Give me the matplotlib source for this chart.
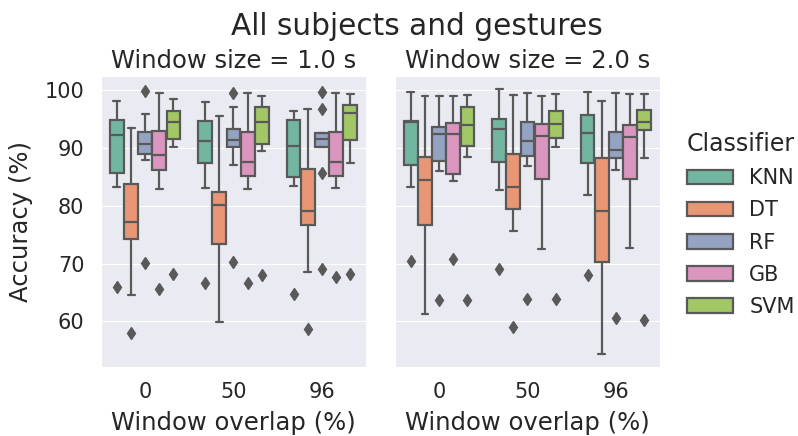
import matplotlib
matplotlib.use("Agg")
import matplotlib.pyplot as plt
from matplotlib.patches import Patch
import seaborn as sns
import colorsys

sns.set_style("darkgrid")

classifiers = ["KNN", "DT", "RF", "GB", "SVM"]
overlaps = ["0", "50", "96"]
window_titles = ["Window size = 1.0 s", "Window size = 2.0 s"]

# box statistics, rows = overlap (0, 50, 96), columns = classifier
whislo_1s = [[83.2, 64.6, 87.9, 82.8, 90.2],
             [83.1, 59.9, 87.1, 82.9, 89.5],
             [83.4, 68.5, 90.1, 83.0, 87.4]]
q1_1s = [[85.7, 74.3, 88.9, 86.2, 91.5],
         [87.3, 73.3, 90.2, 85.1, 90.7],
         [84.9, 76.6, 90.1, 85.2, 91.4]]
med_1s = [[92.2, 77.2, 90.6, 88.7, 94.4],
          [91.2, 80.2, 91.4, 87.6, 94.5],
          [90.3, 79.0, 91.5, 87.6, 96.0]]
q3_1s = [[94.8, 83.7, 92.8, 92.9, 96.4],
         [94.6, 82.3, 93.3, 92.8, 97.0],
         [94.8, 86.3, 92.6, 92.8, 97.4]]
whishi_1s = [[98.1, 93.5, 95.9, 99.5, 98.4],
             [97.9, 95.5, 97.0, 99.4, 98.9],
             [96.4, 96.7, 92.6, 99.4, 99.3]]
fliers_1s = [[[66.0], [58.0], [99.8, 70.1], [65.6], [68.2]],
             [[66.7], [], [99.5, 70.2], [66.6], [68.0]],
             [[64.7], [58.7], [99.7, 96.7, 85.6, 69.1], [67.6], [68.2]]]

whislo_2s = [[83.2, 61.3, 86.0, 84.2, 88.4],
             [82.7, 75.6, 86.9, 72.5, 90.2],
             [81.8, 54.4, 86.2, 72.7, 88.2]]
q1_2s = [[87.1, 76.6, 87.8, 85.5, 90.3],
         [87.5, 79.4, 88.6, 84.6, 91.7],
         [87.3, 70.3, 88.3, 84.6, 93.0]]
med_2s = [[94.5, 84.5, 92.4, 92.4, 93.9],
          [93.3, 83.2, 91.2, 92.1, 94.2],
          [92.6, 79.0, 89.6, 91.8, 94.5]]
q3_2s = [[94.7, 88.4, 93.6, 94.3, 97.0],
         [94.9, 88.9, 94.5, 94.1, 96.3],
         [95.6, 88.2, 92.8, 94.0, 96.6]]
whishi_2s = [[99.7, 99.0, 99.0, 99.0, 99.1],
             [100.1, 99.1, 99.5, 99.0, 99.3],
             [99.7, 98.1, 99.4, 99.3, 99.3]]
fliers_2s = [[[70.4], [], [63.7], [70.8], [63.7]],
             [[69.0], [59.0], [63.9], [], [63.9]],
             [[68.0], [], [60.6], [], [60.3]]]

panels = [
    (whislo_1s, q1_1s, med_1s, q3_1s, whishi_1s, fliers_1s),
    (whislo_2s, q1_2s, med_2s, q3_2s, whishi_2s, fliers_2s),
]

colors = [sns.desaturate(c, 0.75) for c in sns.color_palette("Set2", 5)]
lum = min(colorsys.rgb_to_hls(*c)[1] for c in colors) * 0.6
gray = (lum, lum, lum)

fig = plt.figure(figsize=(7.98, 4.36), dpi=100)
ax1 = fig.add_axes([0.1266, 0.1583, 0.332, 0.667])
ax2 = fig.add_axes([0.495, 0.1583, 0.332, 0.667], sharey=ax1)
axes = [ax1, ax2]

lw = 1.6
n = len(classifiers)
slot = 0.8 / n
for ax, (lo, q1, med, q3, hi, fl), title in zip(axes, panels, window_titles):
    for i in range(len(overlaps)):
        for j in range(n):
            stats = [dict(whislo=lo[i][j], q1=q1[i][j], med=med[i][j],
                          q3=q3[i][j], whishi=hi[i][j], fliers=fl[i][j])]
            pos = i - 0.4 + slot / 2 + slot * j
            ax.bxp(stats, positions=[pos], widths=slot * 0.98,
                   patch_artist=True, manage_ticks=False,
                   boxprops=dict(facecolor=colors[j], edgecolor=gray, linewidth=lw),
                   medianprops=dict(color=gray, linewidth=lw),
                   whiskerprops=dict(color=gray, linewidth=lw),
                   capprops=dict(color=gray, linewidth=lw),
                   flierprops=dict(marker="d", markerfacecolor=gray,
                                   markeredgecolor=gray, markersize=6))
    ax.set_xlim(-0.5, len(overlaps) - 0.5)
    ax.set_xticks(range(len(overlaps)))
    ax.set_xticklabels(overlaps)
    ax.xaxis.grid(False)
    ax.tick_params(axis="x", labelsize=15, length=0, pad=11)
    ax.tick_params(axis="y", labelsize=15, length=0, pad=12)
    ax.set_xlabel("Window overlap (%)", fontsize=17.5, labelpad=6)
    ax.set_title(title, fontsize=17.5, pad=6)

ax1.set_ylabel("Accuracy (%)", fontsize=17.5, labelpad=8)
ax1.set_yticks([60, 70, 80, 90, 100])
ax2.tick_params(axis="y", labelleft=False)

fig.suptitle("All subjects and gestures", fontsize=21.3, x=0.522, y=0.972)

handles = [Patch(facecolor=c, edgecolor=gray, linewidth=lw) for c in colors]
leg = fig.legend(handles, classifiers, title="Classifier", loc="center left",
                 bbox_to_anchor=(0.837, 0.485), frameon=False, fontsize=15,
                 title_fontsize=17, handlelength=2.2, labelspacing=0.58)
leg._legend_box.align = "left"

fig.savefig("out.png", dpi=100)
